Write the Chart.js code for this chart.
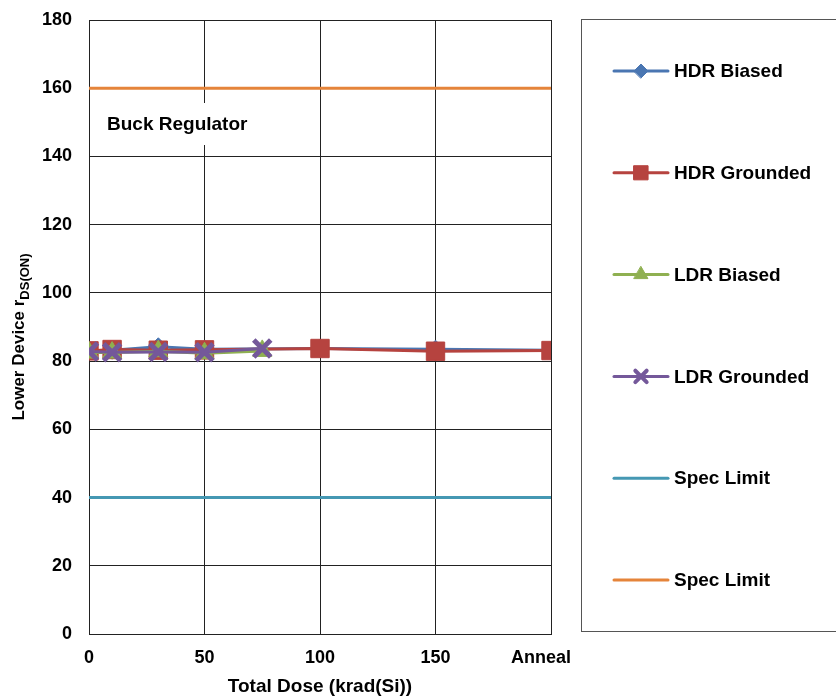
<!DOCTYPE html>
<html>
<head>
<meta charset="utf-8">
<script src="https://cdn.jsdelivr.net/npm/chart.js@4"></script>
<style>
    html, body { margin: 0; padding: 0; background: #fff; }
    #wrap { width: 836px; height: 696px; }
</style>
</head>
<body>
<div id="wrap"><canvas id="rdsChart" width="836" height="696"></canvas></div>
<script>
(() => {
    // dose steps (krad(Si)); 200 is the anneal step
    const doseHdr = [0, 10, 30, 50, 100, 150, 200];
    const doseLdr = [0, 10, 30, 50, 75];
    const hdrBiased = [83.0, 83.2, 84.2, 83.5, 83.7, 83.5, 83.2];
    const hdrGrounded = [83.0, 83.4, 83.2, 83.3, 83.7, 82.9, 83.1];
    const ldrBiased = [82.5, 82.5, 82.9, 82.3, 83.0];
    const ldrGrounded = [82.8, 82.6, 82.7, 82.6, 83.7];
    const specLow = 40;
    const specHigh = 160;
    const doseRange = [0, 200];
    const seriesNames = ["HDR Biased", "HDR Grounded", "LDR Biased", "LDR Grounded", "Spec Limit", "Spec Limit"];

    const FONT = "'Liberation Sans', Arial, sans-serif";
    const toPoints = (xs, ys) => xs.map((x, i) => ({ x, y: ys[i] }));
    const flat = (v) => doseRange.map((x) => ({ x, y: v }));

    const series = (label, data, color, style, radius, order) => ({
        label,
        data,
        borderColor: color,
        backgroundColor: color,
        borderWidth: 3,
        pointStyle: style,
        pointRadius: radius,
        pointHoverRadius: radius,
        pointBorderWidth: style === "crossRot" ? 5 : 1,
        tension: 0,
        order
    });

    const datasets = [
        series(seriesNames[0], toPoints(doseHdr, hdrBiased), "#4a76b2", "rectRot", 9, 4),
        series(seriesNames[1], toPoints(doseHdr, hdrGrounded), "#b6433f", "rect", 13, 3),
        series(seriesNames[2], toPoints(doseLdr, ldrBiased), "#8fb051", "triangle", 11, 2),
        series(seriesNames[3], toPoints(doseLdr, ldrGrounded), "#74589a", "crossRot", 12, 1),
        series(seriesNames[4], flat(specLow), "#4598b3", false, 0, 5),
        series(seriesNames[5], flat(specHigh), "#e5843a", false, 0, 6)
    ];

    // axis titles, note box and the boxed legend on the right
    const decorations = {
        id: "decorations",
        beforeDatasetsDraw(chart) {
            const ctx = chart.ctx;
            ctx.save();
            ctx.fillStyle = "#fff";
            ctx.fillRect(100, 103, 160, 42);
            ctx.fillStyle = "#000";
            ctx.font = `bold 19px ${FONT}`;
            ctx.textBaseline = "middle";
            ctx.fillText("Buck Regulator", 107, 125);
            ctx.restore();
        },
        afterDraw(chart) {
            const ctx = chart.ctx;
            const area = chart.chartArea;
            ctx.save();
            ctx.fillStyle = "#000";
            ctx.textBaseline = "middle";

            // x title
            ctx.font = `bold 19px ${FONT}`;
            ctx.textAlign = "center";
            ctx.fillText("Total Dose (krad(Si))", (area.left + area.right) / 2, 687);

            // y title with subscript
            ctx.save();
            ctx.translate(19, (area.top + area.bottom) / 2 + 10);
            ctx.rotate(-Math.PI / 2);
            const main = "Lower Device r";
            const sub = "DS(ON)";
            ctx.font = `bold 17px ${FONT}`;
            const wMain = ctx.measureText(main).width;
            ctx.font = `bold 13px ${FONT}`;
            const wSub = ctx.measureText(sub).width;
            const x0 = -(wMain + wSub) / 2;
            ctx.textAlign = "left";
            ctx.font = `bold 17px ${FONT}`;
            ctx.fillText(main, x0, 0);
            ctx.font = `bold 13px ${FONT}`;
            ctx.fillText(sub, x0 + wMain, 6);
            ctx.restore();

            // legend box
            ctx.strokeStyle = "#555";
            ctx.lineWidth = 1;
            ctx.strokeRect(581.5, 19.5, 300, 612);

            ctx.font = `bold 19px ${FONT}`;
            ctx.textAlign = "left";
            chart.data.datasets.forEach((ds, i) => {
                const y = 71 + i * 101.8;
                ctx.strokeStyle = ds.borderColor;
                ctx.lineWidth = 3;
                ctx.lineCap = "round";
                ctx.beginPath();
                ctx.moveTo(614, y);
                ctx.lineTo(668, y);
                ctx.stroke();
                if (ds.pointStyle) {
                    const sizes = { rect: 10, triangle: 8, crossRot: 8, rectRot: 7 };
                    const bw = ds.pointStyle === "crossRot" ? 4 : 1;
                    ctx.fillStyle = ds.backgroundColor;
                    ctx.lineWidth = bw;
                    Chart.helpers.drawPoint(ctx, { pointStyle: ds.pointStyle, radius: sizes[ds.pointStyle], borderWidth: bw, rotation: 0 }, 641, y);
                }
                ctx.fillStyle = "#000";
                ctx.fillText(ds.label, 674, y + 1);
            });
            ctx.restore();
        }
    };

    new Chart(document.getElementById("rdsChart"), {
        type: "line",
        data: { datasets },
        options: {
            responsive: false,
            animation: false,
            layout: { padding: { top: 20, right: 285, left: 0, bottom: 0 } },
            plugins: {
                legend: { display: false },
                tooltip: { enabled: false }
            },
            scales: {
                x: {
                    type: "linear",
                    min: doseRange[0],
                    max: doseRange[1],
                    afterFit: (scale) => {
                        scale.height = 62;
                        scale.paddingLeft = 0;
                        scale.paddingRight = 0;
                    },
                    ticks: {
                        stepSize: 50,
                        padding: 13,
                        maxRotation: 0,
                        color: "#000",
                        font: { family: FONT, size: 18, weight: "bold" },
                        // trailing spaces nudge the last label left of its tick
                        callback: (v) => (v === 200 ? "Anneal    " : v)
                    },
                    grid: { color: "#222", lineWidth: 1, drawTicks: false },
                    border: { color: "#222", width: 1 }
                },
                y: {
                    min: 0,
                    max: 180,
                    afterFit: (scale) => {
                        scale.width = 89;
                        scale.paddingTop = 0;
                        scale.paddingBottom = 0;
                    },
                    ticks: {
                        stepSize: 20,
                        padding: 17,
                        color: "#000",
                        font: { family: FONT, size: 18, weight: "bold" }
                    },
                    grid: { color: "#222", lineWidth: 1, drawTicks: false },
                    border: { color: "#222", width: 1 }
                }
            }
        },
        plugins: [decorations]
    });
})();
</script>
</body>
</html>
